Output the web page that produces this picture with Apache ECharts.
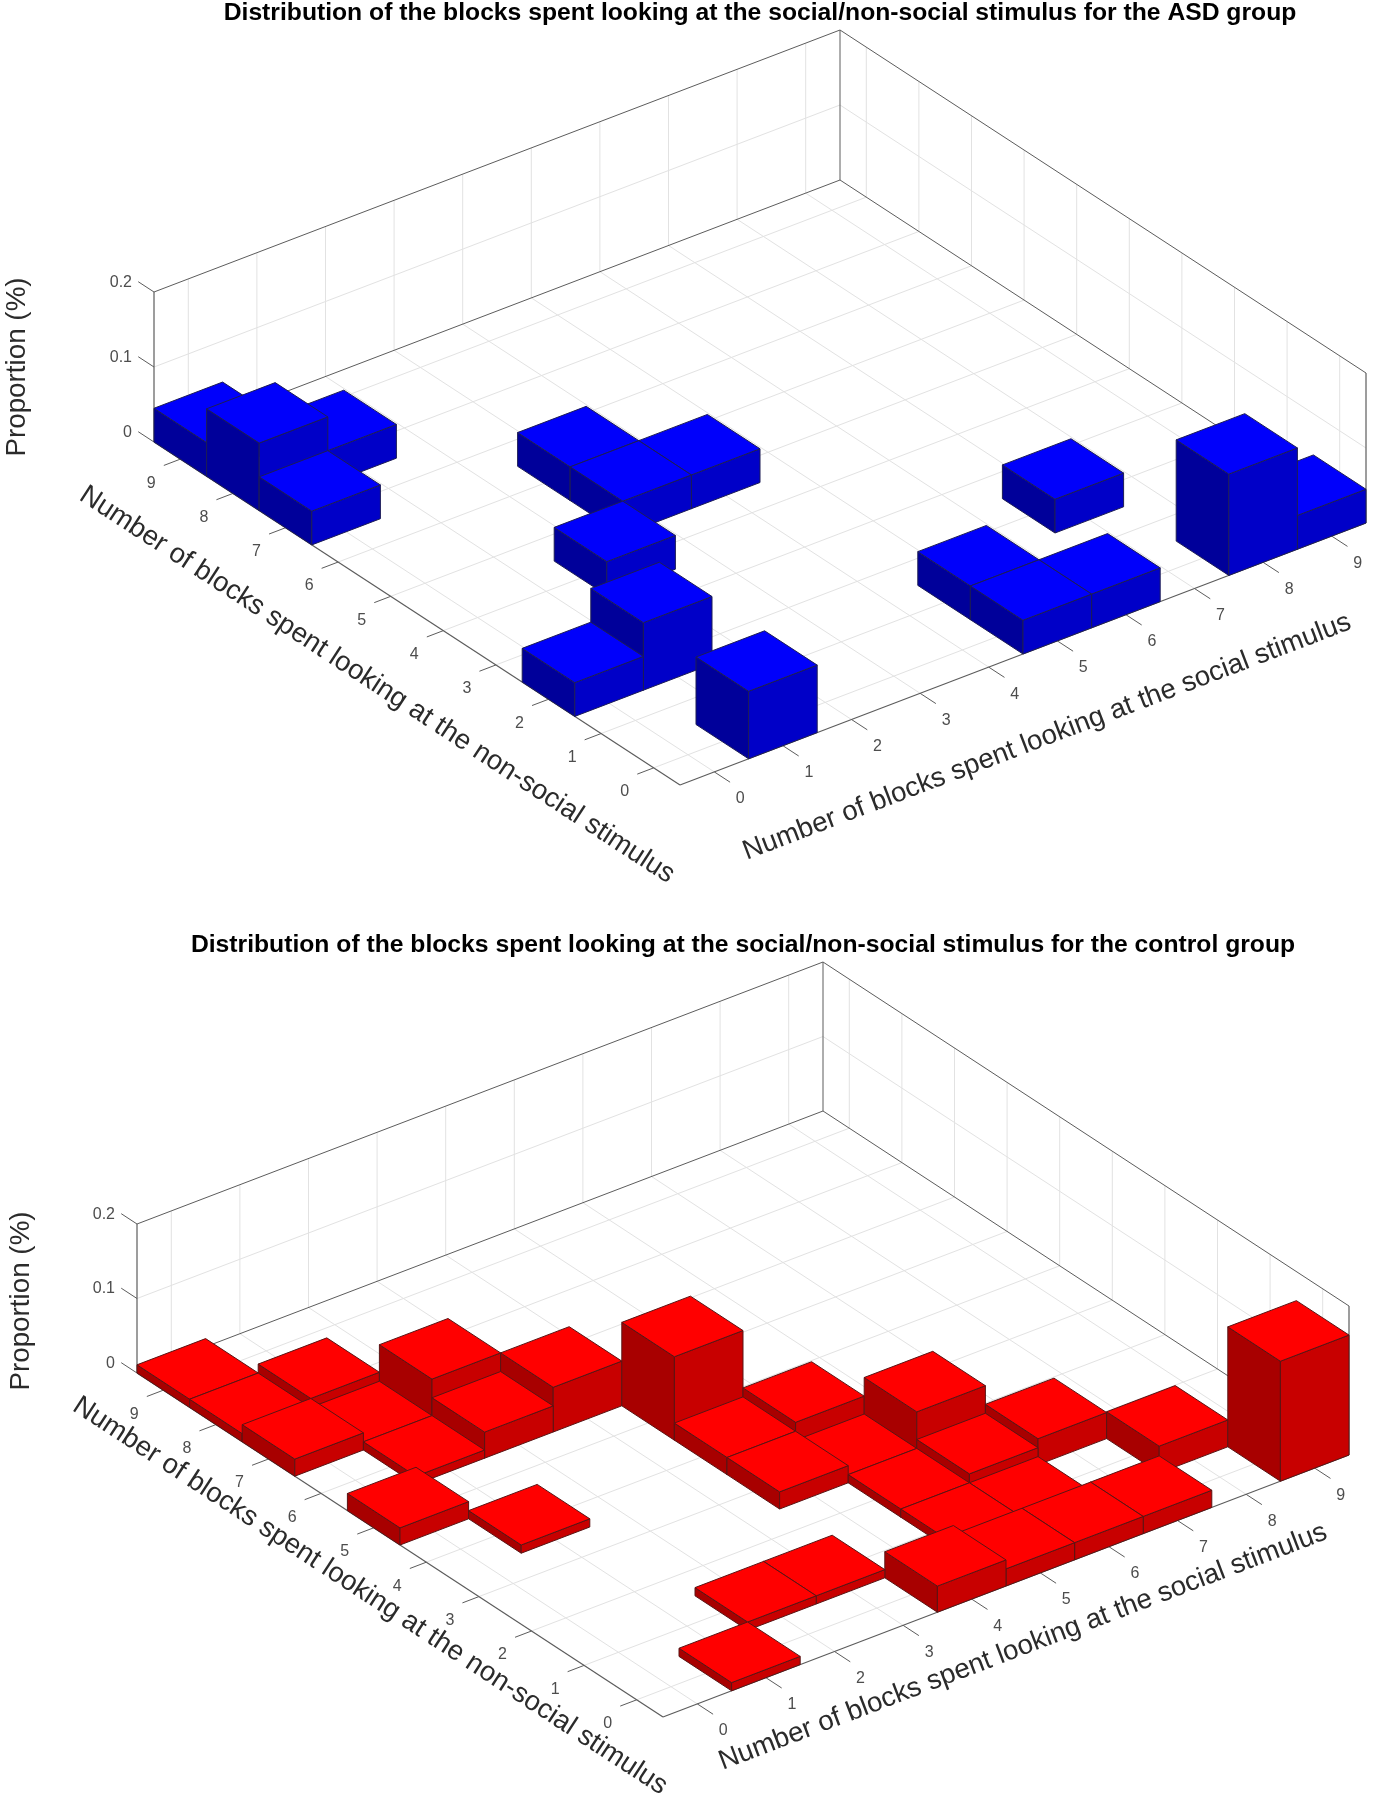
<!DOCTYPE html>
<html>
<head>
<meta charset="utf-8">
<style>html,body{margin:0;padding:0;background:#fff}#chart{width:1380px;height:1800px}</style>
<script src="https://cdn.jsdelivr.net/npm/echarts@6/dist/echarts.min.js"></script>
</head>
<body>
<div id="chart"></div>
<script>
// ---- data ----
const blockTicks = [0, 1, 2, 3, 4, 5, 6, 7, 8, 9];
const proportionTicks = [0, 0.1, 0.2];

const asdSocial    = [0, 0, 1, 0, 1, 0, 1, 2, 3, 3, 4, 7, 5, 5, 6, 8, 9];
const asdNonSocial = [9, 8, 8, 7, 0, 2, 2, 4, 6, 5, 5, 2, 1, 0, 0, 0, 0];
const asdValues    = [0.045, 0.09, 0.045, 0.045, 0.09, 0.045, 0.09, 0.045, 0.045, 0.045, 0.045, 0.045, 0.045, 0.045, 0.045, 0.135, 0.045];

const controlSocial    = [0, 0, 1, 0, 1, 2, 1, 2, 3, 0, 1, 4, 5, 4, 4, 5, 6, 7, 8, 9, 6, 6, 5, 5, 7, 6, 5, 4, 1, 2, 3];
const controlNonSocial = [9, 8, 8, 7, 7, 7, 6, 6, 6, 5, 4, 5, 4, 4, 3, 3, 3, 2, 1, 0, 2, 1, 1, 2, 0, 0, 0, 0, 0, 1, 1];
const controlValues    = [0.011, 0.011, 0.023, 0.023, 0.011, 0.06, 0.011, 0.035, 0.06, 0.023, 0.011, 0.112, 0.035, 0.023, 0.023, 0.011, 0.06, 0.035, 0.036, 0.161, 0.023, 0.011, 0.011, 0.011, 0.023, 0.023, 0.023, 0.035, 0.011, 0.011, 0.011];

const titleAsd = 'Distribution of the blocks spent looking at the social/non-social stimulus for the ASD group';
const titleControl = 'Distribution of the blocks spent looking at the social/non-social stimulus for the control group';
const nameSocial = 'Number of blocks spent looking at the social stimulus';
const nameNonSocial = 'Number of blocks spent looking at the non-social stimulus';
const nameProportion = 'Proportion (%)';

// ---- view of the two panels (orthographic, one cell = u / v, in axis units of the panel grid) ----
const FONT = '"Liberation Sans", Arial, sans-serif';
const panels = [
  { o: [680, 785], u: [68.6, -26.2], v: [-52.6, -34.3], zs: 750,
    social: [367, -48], nonSocial: [-303, -100], prop: [17, 367] },
  { o: [663, 817], u: [68.6, -26.2], v: [-52.6, -34.4], zs: 745,
    social: [360, -70], nonSocial: [-293, -121], prop: [21, 401] }
];

function projector(p, api) {
  return (s, n, z) => api.coord([
    p.o[0] + s * p.u[0] + n * p.v[0],
    p.o[1] + s * p.u[1] + n * p.v[1] - (z || 0) * p.zs
  ]);
}

function frameRenderer(p) {
  return function (params, api) {
    const P = projector(p, api);
    const kids = [];
    const seg = (a, b, stroke, w) => kids.push({
      type: 'line', shape: { x1: a[0], y1: a[1], x2: b[0], y2: b[1] },
      style: { stroke: stroke, lineWidth: w }
    });
    const label = (c, text, size, color, extra) => kids.push(Object.assign({
      type: 'text', x: c[0], y: c[1],
      style: { text: text, fontSize: size, fontFamily: FONT, fill: color, align: 'center', verticalAlign: 'middle' }
    }, extra || {}));

    const GRID = '#e2e2e2', AXIS = '#5c5c5c', TICK = '#4d4d4d', NAME = '#2b2b2b';
    const zTop = proportionTicks[proportionTicks.length - 1];

    // floor and wall grid lines
    blockTicks.forEach(t => {
      const k = t + 0.5;
      seg(P(k, 0), P(k, 10), GRID, 1);
      seg(P(0, k), P(10, k), GRID, 1);
      seg(P(k, 10), P(k, 10, zTop), GRID, 1);
      seg(P(10, k), P(10, k, zTop), GRID, 1);
    });
    proportionTicks.slice(1, -1).forEach(z => {
      seg(P(0, 10, z), P(10, 10, z), GRID, 1);
      seg(P(10, 10, z), P(10, 0, z), GRID, 1);
    });

    // box edges
    seg(P(0, 10), P(10, 10), AXIS, 1);
    seg(P(10, 10), P(10, 0), AXIS, 1);
    seg(P(0, 10, zTop), P(10, 10, zTop), AXIS, 1);
    seg(P(10, 10, zTop), P(10, 0, zTop), AXIS, 1);
    seg(P(10, 10), P(10, 10, zTop), AXIS, 1);
    seg(P(0, 10), P(0, 10, zTop), AXIS, 1.2);
    seg(P(10, 0), P(10, 0, zTop), AXIS, 1.2);
    seg(P(0, 0), P(0, 10), AXIS, 1.2);
    seg(P(0, 0), P(10, 0), AXIS, 1.2);

    // block ticks and labels
    blockTicks.forEach(t => {
      const k = t + 0.5;
      const a = P(k, 0), b = P(k, -0.3);
      seg(a, b, AXIS, 1);
      label([a[0] + 26, a[1] + 27], String(t), 16, TICK);
      const c = P(0, k), d = P(-0.24, k);
      seg(c, d, AXIS, 1);
      label([c[0] - 29, c[1] + 24], String(t), 16, TICK);
    });

    // proportion ticks and labels
    proportionTicks.forEach(z => {
      const a = P(0, 10, z), b = P(0, 10.3, z);
      seg(a, b, AXIS, 1);
      kids.push({
        type: 'text', x: a[0] - 22, y: a[1] - 9.5,
        style: { text: String(z), fontSize: 16, fontFamily: FONT, fill: TICK, align: 'right', verticalAlign: 'middle' }
      });
    });

    // axis names
    const base = api.coord([p.o[0], p.o[1]]);
    const angle = vec => Math.atan2(-vec[1], vec[0]);
    label([base[0] + p.social[0], base[1] + p.social[1]], nameSocial, 27.6, NAME,
      { rotation: angle(p.u) });
    label([base[0] + p.nonSocial[0], base[1] + p.nonSocial[1]], nameNonSocial, 27.6, NAME,
      { rotation: angle([-p.v[0], -p.v[1]]) });
    label(api.coord(p.prop), nameProportion, 27.8, NAME, { rotation: Math.PI / 2 });

    return { type: 'group', children: kids };
  };
}

function barRenderer(p, colors) {
  return function (params, api) {
    const P = projector(p, api);
    const s = api.value(0), n = api.value(1), h = api.value(2);
    const face = (pts, fill) => ({
      type: 'polygon', shape: { points: pts },
      style: { fill: fill, stroke: colors.edge, lineWidth: 1, lineJoin: 'round' }
    });
    return {
      type: 'group',
      children: [
        face([P(s, n), P(s, n + 1), P(s, n + 1, h), P(s, n, h)], colors.left),
        face([P(s, n), P(s + 1, n), P(s + 1, n, h), P(s, n, h)], colors.right),
        face([P(s, n, h), P(s + 1, n, h), P(s + 1, n + 1, h), P(s, n + 1, h)], colors.top)
      ]
    };
  };
}

// far cells are painted first
function cells(social, nonSocial, values) {
  return social.map((s, i) => [s, nonSocial[i], values[i]])
    .sort((a, b) => (b[0] + b[1]) - (a[0] + a[1]));
}

const blue = { top: '#0000fb', left: '#00009a', right: '#0000c8', edge: '#1d1d55' };
const red  = { top: '#ff0000', left: '#a80000', right: '#c80000', edge: '#5a1414' };

const chart = echarts.init(document.getElementById('chart'), null, { renderer: 'canvas' });
const hiddenAxis = (gridIndex, max, inverse) => ({
  type: 'value', gridIndex, min: 0, max, inverse, show: false, splitLine: { show: false }
});

chart.setOption({
  animation: false,
  backgroundColor: '#ffffff',
  title: [
    { text: titleAsd, left: 755, top: -4, textAlign: 'center',
      textStyle: { fontFamily: FONT, fontWeight: 'bold', fontSize: 24.7, color: '#000' } },
    { text: titleControl, left: 738, top: 928, textAlign: 'center',
      textStyle: { fontFamily: FONT, fontWeight: 'bold', fontSize: 24.7, color: '#000' } }
  ],
  grid: [
    { left: 0, top: 0, width: 1380, height: 900, show: false },
    { left: 0, top: 900, width: 1380, height: 900, show: false }
  ],
  xAxis: [hiddenAxis(0, 1380, false), hiddenAxis(1, 1380, false)],
  yAxis: [hiddenAxis(0, 900, true), hiddenAxis(1, 900, true)],
  series: [
    { type: 'custom', name: 'ASD frame', xAxisIndex: 0, yAxisIndex: 0, silent: true, z: 1,
      data: [[0, 0]], renderItem: frameRenderer(panels[0]) },
    { type: 'custom', name: 'ASD group', xAxisIndex: 0, yAxisIndex: 0, z: 2,
      encode: { x: 0, y: 1 }, data: cells(asdSocial, asdNonSocial, asdValues),
      renderItem: barRenderer(panels[0], blue) },
    { type: 'custom', name: 'Control frame', xAxisIndex: 1, yAxisIndex: 1, silent: true, z: 1,
      data: [[0, 0]], renderItem: frameRenderer(panels[1]) },
    { type: 'custom', name: 'Control group', xAxisIndex: 1, yAxisIndex: 1, z: 2,
      encode: { x: 0, y: 1 }, data: cells(controlSocial, controlNonSocial, controlValues),
      renderItem: barRenderer(panels[1], red) }
  ]
});
</script>
</body>
</html>
